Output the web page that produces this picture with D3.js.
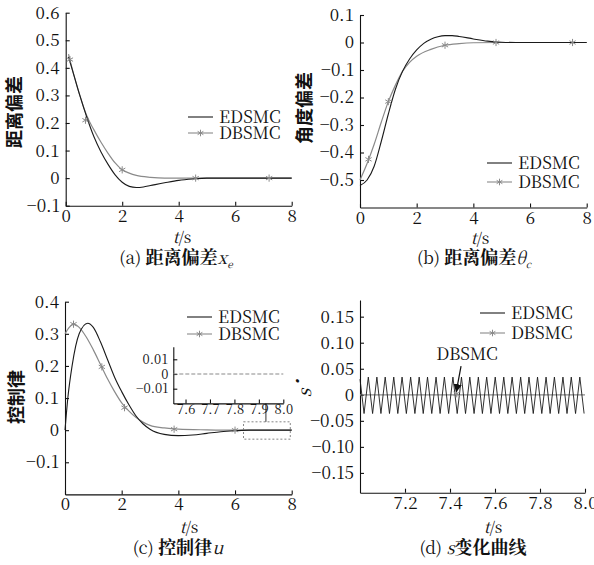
<!DOCTYPE html>
<html>
<head>
<meta charset="utf-8">
<script src="https://cdn.jsdelivr.net/npm/d3@7"></script>
</head>
<body style="margin:0">
<div id="chart"></div>
<script>
// ---- data ----
const seriesNames = ["EDSMC", "DBSMC"];

// (a) distance error
const edsmcDist = [[0.1,0.44],[0.3,0.37],[0.5,0.30],[0.75,0.22],[1.0,0.15],[1.25,0.095],[1.5,0.05],
    [1.75,0.012],[2.0,-0.015],[2.25,-0.03],[2.5,-0.034],[2.75,-0.032],[3.0,-0.027],[3.5,-0.017],
    [4.0,-0.008],[4.5,-0.003],[5.0,0],[6.0,0],[8.0,0]];
const dbsmcDist = [[0.1,0.45],[0.3,0.37],[0.5,0.30],[0.75,0.225],[1.0,0.175],[1.25,0.13],[1.5,0.09],
    [1.75,0.055],[2.0,0.03],[2.25,0.018],[2.5,0.01],[3.0,0.003],[3.5,0],[8.0,0]];
const dbsmcDistMarks = [[0.15,0.43],[0.7,0.21],[2.0,0.03],[4.6,0],[7.2,0]];

// (b) angle error
const edsmcAng = [[0,-0.52],[0.25,-0.5],[0.5,-0.45],[0.75,-0.36],[1.0,-0.26],[1.25,-0.17],[1.5,-0.105],
    [1.75,-0.06],[2.0,-0.027],[2.25,-0.003],[2.5,0.012],[2.75,0.021],[3.0,0.025],[3.25,0.025],
    [3.5,0.022],[4.0,0.013],[4.5,0.005],[5.0,0.001],[5.5,0],[8.0,0]];
const dbsmcAng = [[0,-0.5],[0.25,-0.44],[0.5,-0.37],[0.75,-0.29],[1.0,-0.215],[1.25,-0.155],[1.5,-0.105],
    [1.75,-0.072],[2.0,-0.05],[2.5,-0.025],[3.0,-0.01],[3.5,-0.004],[4.0,-0.001],[5.0,0],[8.0,0]];
const dbsmcAngMarks = [[0.3,-0.425],[1.0,-0.215],[3.0,-0.01],[4.8,0],[7.5,0]];

// (c) control law
const edsmcCtrl = [[0,0.0],[0.1,0.1],[0.25,0.2],[0.5,0.3],[0.8,0.333],[1.0,0.32],[1.25,0.275],[1.5,0.22],
    [1.75,0.165],[2.0,0.12],[2.25,0.08],[2.5,0.045],[2.75,0.02],[3.0,0.003],[3.5,-0.013],[4.0,-0.017],
    [4.5,-0.015],[5.0,-0.01],[5.5,-0.005],[6.0,-0.002],[6.5,0],[8.0,0]];
const dbsmcCtrl = [[0,0.30],[0.15,0.32],[0.3,0.33],[0.5,0.32],[0.75,0.29],[1.0,0.25],[1.25,0.205],
    [1.5,0.16],[1.75,0.12],[2.0,0.085],[2.25,0.06],[2.5,0.04],[2.75,0.025],[3.0,0.015],[3.5,0.007],
    [4.0,0.003],[5.0,0.001],[6.0,0],[8.0,0]];
const dbsmcCtrlMarks = [[0.3,0.33],[1.3,0.197],[2.1,0.07],[3.85,0.003],[6.0,0]];
const dbsmcCtrlInset = [[7.55,0],[8.0,0]];
const zoomBox = {t: [6.3, 7.95], v: [-0.028, 0.026], link: 7.09};

// (d) sliding surface derivative
const edsmcS = [[7.000,0.030],
    [7.018,-0.036],[7.037,0.034],[7.056,-0.036],[7.075,0.034],[7.093,-0.036],[7.112,0.034],
    [7.131,-0.036],[7.150,0.034],[7.168,-0.036],[7.187,0.034],[7.206,-0.036],[7.225,0.034],
    [7.244,-0.036],[7.263,0.034],[7.281,-0.036],[7.300,0.034],[7.319,-0.036],[7.338,0.034],
    [7.356,-0.036],[7.375,0.034],[7.394,-0.036],[7.413,0.034],[7.432,-0.036],[7.451,0.034],
    [7.469,-0.036],[7.488,0.034],[7.507,-0.036],[7.526,0.034],[7.544,-0.036],[7.563,0.034],
    [7.582,-0.036],[7.601,0.034],[7.620,-0.036],[7.639,0.034],[7.657,-0.036],[7.676,0.034],
    [7.695,-0.036],[7.714,0.034],[7.732,-0.036],[7.751,0.034],[7.770,-0.036],[7.789,0.034],
    [7.808,-0.036],[7.827,0.034],[7.845,-0.036],[7.864,0.034],[7.883,-0.036],[7.902,0.034],
    [7.920,-0.036],[7.939,0.034],[7.958,-0.036],[7.977,0.034],[7.996,-0.036]];
const dbsmcS = [[7.0,0],[8.0,0]];
const dbsmcSMarks = [[7.43,0.002]];
const sArrow = {from: [7.449, 0.055], to: [7.428, 0.006]};

// ticks
const ticksT = [0, 2, 4, 6, 8];
const ticksDist = [-0.1, 0, 0.1, 0.2, 0.3, 0.4, 0.5, 0.6];
const ticksAng = [-0.5, -0.4, -0.3, -0.2, -0.1, 0, 0.1];
const ticksCtrl = [-0.1, 0, 0.1, 0.2, 0.3, 0.4];
const ticksInsetT = [7.6, 7.7, 7.8, 7.9, 8.0];
const ticksInsetV = [-0.01, 0, 0.01];
const ticksSt = [7.2, 7.4, 7.6, 7.8, 8.0];
const ticksS = [-0.15, -0.10, -0.05, 0, 0.05, 0.10, 0.15];

// ---- drawing ----
const W = 594, H = 565;
// serif Latin from the CJK serif face, which resolved reliably in tests
const SERIF = "Noto Serif CJK SC";
const SONG = "Noto Serif CJK SC";
const HEI = "Noto Sans CJK SC";
const colE = "#1a1a1a", colD = "#8a8a8a";

const svg = d3.select("#chart").append("svg")
    .attr("width", W)
    .attr("height", H)
    .attr("font-family", SERIF)
    .attr("font-size", 17)
    .style("display", "block");

function fmt(p) {
    return d => d === 0 ? "0" : d3.format("." + p + "f")(d);
}

function drawMarks(g, pts, x, y, size) {
    g.selectAll(null)
        .data(pts)
        .join("path")
        .attr("transform", d => `translate(${x(d[0])},${y(d[1])})`)
        .attr("d", d3.symbol().type(d3.symbolAsterisk).size(size || 36))
        .attr("fill", "none")
        .attr("stroke", colD)
        .attr("stroke-width", 1);
}

function styleAxis(a, size) {
    a.attr("font-family", SERIF).attr("font-size", size);
    a.selectAll("text").attr("font-family", SERIF).attr("font-size", size).attr("fill", "#111");
    a.selectAll("line,path").attr("stroke", "#111").attr("stroke-width", 1.1);
}

function drawPanel(p) {
    let g = svg.append("g");
    let x = d3.scaleLinear().domain(p.xDom).range([p.left, p.right]);
    let y = d3.scaleLinear().domain(p.yDom).range([p.bottom, p.top]);

    // axes
    let ax = g.append("g")
        .attr("transform", `translate(0,${p.bottom})`)
        .call(d3.axisBottom(x).tickValues(p.xTicks).tickSize(-4).tickSizeOuter(0)
            .tickPadding(4).tickFormat(p.xFmt));
    let ay = g.append("g")
        .attr("transform", `translate(${p.left},0)`)
        .call(d3.axisLeft(y).tickValues(p.yTicks).tickSize(-4).tickSizeOuter(0)
            .tickPadding(6).tickFormat(p.yFmt));
    styleAxis(ax, 17);
    styleAxis(ay, 17);

    let line = d3.line().x(d => x(d[0])).y(d => y(d[1])).curve(p.curve || d3.curveMonotoneX);

    g.append("path").datum(p.dbsmc)
        .attr("d", line).attr("fill", "none").attr("stroke", colD).attr("stroke-width", 1.2);
    g.append("path").datum(p.edsmc)
        .attr("d", line).attr("fill", "none").attr("stroke", colE).attr("stroke-width", p.eWidth || 1.1);
    drawMarks(g, p.marks, x, y);

    // legend
    let lg = g.append("g").attr("transform", `translate(${p.legend[0]},${p.legend[1]})`);
    seriesNames.forEach((name, i) => {
        let yy = i * p.legendGap;
        lg.append("line").attr("x1", 0).attr("x2", 25).attr("y1", yy).attr("y2", yy)
            .attr("stroke", i === 0 ? colE : colD).attr("stroke-width", 1.1);
        if (i === 1) drawMarks(lg, [[12.5, yy]], d => d, d => d, 30);
        lg.append("text").attr("x", 31).attr("y", yy + 6)
            .attr("font-family", SERIF).attr("font-size", 17).attr("fill", "#111").text(name);
    });

    // y title
    let yt = g.append("text")
        .attr("transform", `translate(${p.yTitle[0]},${p.yTitle[1]}) rotate(-90)`)
        .attr("text-anchor", "middle").attr("dy", "0.35em")
        .attr("fill", "#111");
    if (p.yTitleItalic) {
        yt.attr("font-family", SERIF).attr("font-style", "italic").attr("font-size", 18).text(p.yTitleText);
    } else {
        yt.attr("font-family", HEI).attr("font-size", 18).attr("font-weight", 700).text(p.yTitleText);
    }

    // t/s
    let tt = g.append("text")
        .attr("x", p.tTitle[0]).attr("y", p.tTitle[1] + 5)
        .attr("text-anchor", "middle").attr("font-family", SERIF).attr("font-size", 16).attr("fill", "#111");
    tt.append("tspan").attr("font-style", "italic").text("t");
    tt.append("tspan").text("/s");

    // caption
    let cap = g.append("text")
        .attr("x", p.caption[0]).attr("y", p.caption[1] + 6)
        .attr("text-anchor", "middle").attr("fill", "#111")
        .attr("font-family", SERIF).attr("font-size", 17);
    p.captionParts.forEach(c => {
        let ts = cap.append("tspan").text(c.t);
        if (c.cjk) ts.attr("font-family", SONG).attr("font-size", 18).attr("font-weight", 700);
        if (c.it) ts.attr("font-style", "italic");
        if (c.sub) ts.attr("font-size", 10).attr("baseline-shift", "-4");
    });

    return {g, x, y};
}

// (a)
drawPanel({
    left: 65.7, right: 291.7, top: 12.7, bottom: 205.7,
    xDom: [0, 8], yDom: [-0.1, 0.6], xTicks: ticksT, yTicks: ticksDist,
    xFmt: fmt(0), yFmt: fmt(1),
    edsmc: edsmcDist, dbsmc: dbsmcDist, marks: dbsmcDistMarks,
    legend: [188, 117], legendGap: 16,
    yTitle: [15, 112], yTitleText: "距离偏差",
    tTitle: [182, 238], caption: [176, 258],
    captionParts: [{t: "(a) "}, {t: "距离偏差", cjk: true}, {t: "x", it: true}, {t: "e", it: true, sub: true}]
});

// (b)
drawPanel({
    left: 360, right: 586.7, top: 15, bottom: 207.5,
    xDom: [0, 8], yDom: [-0.6, 0.1], xTicks: ticksT, yTicks: ticksAng,
    xFmt: fmt(0), yFmt: fmt(1),
    edsmc: edsmcAng, dbsmc: dbsmcAng, marks: dbsmcAngMarks,
    legend: [487, 163], legendGap: 19,
    yTitle: [305, 108], yTitleText: "角度偏差",
    tTitle: [480, 239], caption: [474, 258],
    captionParts: [{t: "(b) "}, {t: "距离偏差", cjk: true}, {t: "θ", it: true}, {t: "c", it: true, sub: true}]
});

// (c)
let pc = drawPanel({
    left: 65, right: 291.7, top: 301.7, bottom: 494.4,
    xDom: [0, 8], yDom: [-0.2, 0.4], xTicks: ticksT, yTicks: ticksCtrl,
    xFmt: fmt(0), yFmt: fmt(1),
    edsmc: edsmcCtrl, dbsmc: dbsmcCtrl, marks: dbsmcCtrlMarks,
    legend: [187, 317], legendGap: 17,
    yTitle: [17, 397], yTitleText: "控制律",
    tTitle: [189, 528], caption: [178, 548],
    captionParts: [{t: "(c) "}, {t: "控制律", cjk: true}, {t: "u", it: true}]
});

// zoom box and inset of (c)
pc.g.append("rect")
    .attr("x", pc.x(zoomBox.t[0])).attr("y", pc.y(zoomBox.v[1]))
    .attr("width", pc.x(zoomBox.t[1]) - pc.x(zoomBox.t[0]))
    .attr("height", pc.y(zoomBox.v[0]) - pc.y(zoomBox.v[1]))
    .attr("fill", "none").attr("stroke", "#777").attr("stroke-width", 0.9).attr("stroke-dasharray", "2,2");

let ix = d3.scaleLinear().domain([7.55, 8.0]).range([173.3, 283.3]);
let iy = d3.scaleLinear().domain([-0.02, 0.0185]).range([403.4, 346.8]);
pc.g.append("line")
    .attr("x1", pc.x(zoomBox.link)).attr("x2", pc.x(zoomBox.link))
    .attr("y1", iy(-0.02)).attr("y2", pc.y(zoomBox.v[1]))
    .attr("stroke", "#333").attr("stroke-width", 1);
let iax = pc.g.append("g").attr("transform", `translate(0,${iy(-0.02)})`)
    .call(d3.axisBottom(ix).tickValues(ticksInsetT).tickSize(-4).tickSizeOuter(0)
        .tickPadding(1).tickFormat(d3.format(".1f")));
let iay = pc.g.append("g").attr("transform", `translate(${ix(7.55)},0)`)
    .call(d3.axisLeft(iy).tickValues(ticksInsetV).tickSize(-4).tickSizeOuter(0)
        .tickPadding(5).tickFormat(fmt(2)));
styleAxis(iax, 13);
styleAxis(iay, 13);
pc.g.append("path").datum(dbsmcCtrlInset)
    .attr("d", d3.line().x(d => ix(d[0])).y(d => iy(d[1])))
    .attr("fill", "none").attr("stroke", colD).attr("stroke-width", 1.2).attr("stroke-dasharray", "4,2");

// (d)
let pd = drawPanel({
    left: 360, right: 585, top: 300, bottom: 492.7,
    xDom: [7.0, 8.0], yDom: [-0.188, 0.182], xTicks: ticksSt, yTicks: ticksS,
    xFmt: d3.format(".1f"), yFmt: fmt(2),
    edsmc: edsmcS, dbsmc: dbsmcS, marks: dbsmcSMarks, curve: d3.curveLinear, eWidth: 0.9,
    legend: [480, 313], legendGap: 20,
    yTitle: [305, 393], yTitleText: "ṡ", yTitleItalic: true,
    tTitle: [493, 528], caption: [473, 548],
    captionParts: [{t: "(d) "}, {t: "ṡ", it: true}, {t: "变化曲线", cjk: true}]
});
pd.g.select("path").raise();

// arrow annotation
svg.append("defs").append("marker")
    .attr("id", "ah").attr("viewBox", "0 0 10 10").attr("refX", 9).attr("refY", 5)
    .attr("markerWidth", 7).attr("markerHeight", 7).attr("orient", "auto")
    .append("path").attr("d", "M0,0L10,5L0,10z").attr("fill", "#111");
pd.g.append("line")
    .attr("x1", pd.x(sArrow.from[0])).attr("y1", pd.y(sArrow.from[1]))
    .attr("x2", pd.x(sArrow.to[0])).attr("y2", pd.y(sArrow.to[1]))
    .attr("stroke", "#111").attr("stroke-width", 1.2).attr("marker-end", "url(#ah)");
pd.g.append("text")
    .attr("x", pd.x(sArrow.from[0]) + 6).attr("y", pd.y(sArrow.from[1]) - 6)
    .attr("text-anchor", "middle")
    .attr("font-family", SERIF).attr("font-size", 17).attr("fill", "#111")
    .text(seriesNames[1]);
</script>
</body>
</html>
